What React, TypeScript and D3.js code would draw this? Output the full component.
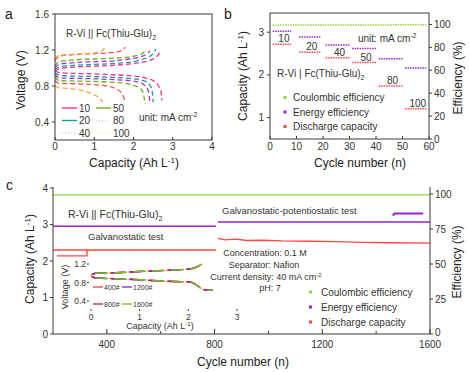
import React from 'react';
import * as d3 from 'd3';

const FONT = "'Liberation Sans', Arial, sans-serif";
const AXIS = '#3a3a3a';

// ---------- panel a : charge / discharge curves at different current densities
const densitiesA = ['10', '20', '40', '50', '80', '100'];
const colorsA = ['#ff2d87', '#1d9b9b', '#a830e0', '#6cae1c', '#ff4a4a', '#f6a93b'];
const chargeA: number[][][] = [
  [[0, 0.96], [0.1, 0.99], [0.5, 1.01], [1, 1.02], [1.5, 1.03], [2, 1.05], [2.3, 1.07], [2.5, 1.1], [2.62, 1.14], [2.7, 1.2]],
  [[0, 0.98], [0.1, 1.01], [0.5, 1.03], [1, 1.04], [1.5, 1.05], [2, 1.07], [2.25, 1.1], [2.42, 1.13], [2.52, 1.17], [2.57, 1.21]],
  [[0, 1.0], [0.1, 1.04], [0.5, 1.06], [1, 1.07], [1.5, 1.08], [1.9, 1.1], [2.15, 1.12], [2.32, 1.15], [2.42, 1.19]],
  [[0, 1.02], [0.1, 1.07], [0.5, 1.09], [1, 1.1], [1.5, 1.11], [1.85, 1.12], [2.1, 1.14], [2.22, 1.16], [2.3, 1.19]],
  [[0, 1.08], [0.1, 1.13], [0.5, 1.15], [1, 1.16], [1.4, 1.17], [1.6, 1.18], [1.72, 1.2], [1.79, 1.23]],
  [[0, 1.1], [0.1, 1.14], [0.4, 1.15], [0.8, 1.16], [1.05, 1.17], [1.2, 1.19], [1.26, 1.22]],
];
const dischargeA: number[][][] = [
  [[0, 0.97], [0.1, 0.95], [0.5, 0.94], [1, 0.935], [1.5, 0.925], [2, 0.91], [2.3, 0.89], [2.5, 0.86], [2.64, 0.8], [2.7, 0.74], [2.72, 0.64]],
  [[0, 0.95], [0.1, 0.92], [0.5, 0.91], [1, 0.905], [1.5, 0.895], [2, 0.88], [2.25, 0.86], [2.4, 0.82], [2.47, 0.76], [2.5, 0.62]],
  [[0, 0.93], [0.1, 0.89], [0.5, 0.885], [1, 0.88], [1.5, 0.87], [1.9, 0.86], [2.15, 0.84], [2.3, 0.8], [2.38, 0.74], [2.42, 0.6]],
  [[0, 0.9], [0.1, 0.86], [0.5, 0.855], [1, 0.85], [1.5, 0.84], [1.8, 0.83], [2.05, 0.8], [2.2, 0.76], [2.26, 0.7], [2.29, 0.6]],
  [[0, 0.86], [0.1, 0.83], [0.5, 0.825], [1, 0.815], [1.3, 0.8], [1.55, 0.77], [1.7, 0.72], [1.78, 0.64]],
  [[0, 0.8], [0.1, 0.78], [0.4, 0.77], [0.7, 0.75], [0.95, 0.71], [1.12, 0.67], [1.22, 0.62]],
];
const xTicksA = [0, 1, 2, 3, 4];
const yTicksA = [0.4, 0.8, 1.2, 1.6];

// ---------- panel b : rate performance
const segStartB = [1, 11, 21, 31, 41, 51];
const segEndB = [8, 19, 30, 40, 50, 59];
const capB = [2.72, 2.53, 2.4, 2.29, 1.74, 1.21];
const eeB = [94, 89, 82, 79, 70, 62];
const ceB = [99.4, 99.5, 99.5, 99.6, 99.6, 99.7];
const xTicksB = [0, 10, 20, 30, 40, 50, 60];
const yTicksB = [1, 2, 3];
const eTicksB = [0, 20, 40, 60, 80, 100];

// ---------- panel c : long cycling
const ceC = [[200, 99.4], [1600, 99.4]];
const eeC = [[200, 77], [805, 77]];
const eeC2 = [[812, 80], [1600, 80]];
const eeC3 = [[1462, 84.5], [1468, 86], [1575, 86]];
const capC = [[200, 2.3], [805, 2.3]];
const capC0 = [[215, 2.14], [326, 2.14], [326, 2.3]];
const capC2 = [[812, 2.62], [840, 2.58], [880, 2.6], [920, 2.56], [980, 2.57], [1050, 2.55], [1150, 2.54], [1250, 2.53], [1350, 2.51], [1450, 2.5], [1600, 2.49]];
const xTicksC = [400, 800, 1200, 1600];
const xMinorC = [600, 1000, 1400];
const yTicksC = [0, 1, 2, 3, 4];
const eTicksC = [0, 25, 50, 75, 100];

// inset of panel c
const cyclesI = ['400#', '800#', '1200#', '1600#'];
const colorsI = ['#ff3b3b', '#b0186a', '#8a22c8', '#79c21e'];
const chargeI = [[0, 0.96], [0.1, 1.0], [0.5, 1.01], [1, 1.04], [1.5, 1.06], [2, 1.09], [2.1, 1.11], [2.2, 1.15], [2.28, 1.2]];
const dischargeI = [[0, 0.93], [0.1, 0.9], [0.5, 0.88], [1, 0.86], [1.5, 0.83], [2, 0.81], [2.1, 0.79], [2.2, 0.72], [2.3, 0.65], [2.5, 0.63]];
const xTicksI = [0, 1, 2, 3];
const yTicksI = [0.4, 0.8, 1.2];

const green = '#8fd93f';
const purple = '#9b20d8';
const red = '#ff4545';

const CapTitle = ({ x, y, rot }: { x: number; y: number; rot?: boolean }) => (
  <text x={x} y={y} transform={rot ? `rotate(-90,${x},${y})` : undefined} textAnchor="middle" fontSize={12} fill="#222">
    Capacity (Ah L<tspan dy={-4} fontSize={8}>-1</tspan><tspan dy={4}>)</tspan>
  </text>
);

export default function App() {
  // scales
  const xA = d3.scaleLinear().domain([0, 4]).range([55, 212]);
  const yA = d3.scaleLinear().domain([0.2, 1.6]).range([140, 14]);
  const xB = d3.scaleLinear().domain([0, 60]).range([270, 429]);
  const yB = d3.scaleLinear().domain([0.5, 3.45]).range([139, 13]);
  const eB = d3.scaleLinear().domain([0, 110]).range([139, 13]);
  const xC = d3.scaleLinear().domain([200, 1600]).range([53, 430]);
  const yC = d3.scaleLinear().domain([0, 4]).range([334, 188]);
  const eC = d3.scaleLinear().domain([0, 100]).range([334, 194]);
  const xI = d3.scaleLinear().domain([0, 3]).range([91, 237]);
  const yI = d3.scaleLinear().domain([0.4, 1.2]).range([301, 264]);

  const lineA = d3.line<number[]>().x(d => xA(d[0])).y(d => yA(d[1])).curve(d3.curveMonotoneX);
  const lineCap = d3.line<number[]>().x(d => xC(d[0])).y(d => yC(d[1]));
  const lineEff = d3.line<number[]>().x(d => xC(d[0])).y(d => eC(d[1]));
  const lineI = d3.line<number[]>().x(d => xI(d[0])).y(d => yI(d[1])).curve(d3.curveMonotoneX);

  const tick = { fontSize: 10, fill: '#333' };
  const legendC: [string, string][] = [['Coulombic efficiency', green], ['Energy efficiency', purple], ['Discharge capacity', red]];

  return (
    <div style={{ position: 'absolute', left: 0, top: 0 }}>
      <svg width={469} height={372} style={{ display: 'block', fontFamily: FONT, background: '#fff' }}>
        {/* ================= panel a ================= */}
        <text x={5} y={19} fontSize={14} fill="#222">a</text>
        <g>
          {densitiesA.map((dn, i) => (
            <g key={dn}>
              <path d={lineA(chargeA[i]) || ''} fill="none" stroke={colorsA[i]} strokeWidth={1.3} strokeDasharray="5,3" />
              <path d={lineA(dischargeA[i]) || ''} fill="none" stroke={colorsA[i]} strokeWidth={1.3} strokeDasharray="5,3" />
            </g>
          ))}
          <rect x={55} y={14} width={157} height={126} fill="none" stroke={AXIS} strokeWidth={1} />
          {xTicksA.map(t => (
            <g key={t}>
              <line x1={xA(t)} x2={xA(t)} y1={140} y2={137} stroke={AXIS} />
              <text x={xA(t)} y={150} textAnchor="middle" {...tick}>{t}</text>
            </g>
          ))}
          {yTicksA.map(t => (
            <g key={t}>
              <line x1={55} x2={52} y1={yA(t)} y2={yA(t)} stroke={AXIS} />
              <text x={49} y={yA(t) + 3.5} textAnchor="end" {...tick}>{t.toFixed(1)}</text>
            </g>
          ))}
          <text x={25} y={80} transform="rotate(-90,25,80)" textAnchor="middle" fontSize={12} fill="#222">Voltage (V)</text>
          <CapTitle x={134} y={167} />
          <text x={66} y={37} fontSize={10} fill="#333">R-Vi || Fc(Thiu-Glu)<tspan dy={3} fontSize={7}>2</tspan></text>
          {densitiesA.map((dn, i) => {
            const lx = i < 3 ? 62 : 96;
            const ly = 108 + [0, 1, 2, 0, 1, 2][i] * 12.5;
            const faint = i === 2 || i >= 4;
            return (
              <g key={dn}>
                <line x1={lx} x2={lx + 15} y1={ly} y2={ly} stroke={colorsA[i]} strokeWidth={1.4}
                  strokeDasharray={faint ? '1,2' : undefined} opacity={faint ? 0.3 : 1} />
                <text x={lx + 17} y={ly + 3.5} fontSize={10} fill="#333">{dn}</text>
              </g>
            );
          })}
          <text x={139} y={121} fontSize={10} fill="#333">unit: mA cm<tspan dy={-4} fontSize={7}>-2</tspan></text>
        </g>

        {/* ================= panel b ================= */}
        <text x={224} y={19} fontSize={14} fill="#222">b</text>
        <g>
          <line x1={xB(segStartB[0])} x2={xB(segEndB[5])} y1={eB(ceB[0])} y2={eB(ceB[5])} stroke={green} strokeWidth={1.5} strokeDasharray="1.5,1" />
          {capB.map((c, i) => (
            <g key={i}>
              <line x1={xB(segStartB[i])} x2={xB(segEndB[i])} y1={yB(c)} y2={yB(c)} stroke={red} strokeWidth={1.5} strokeDasharray="1.5,1" />
              <line x1={xB(segStartB[i])} x2={xB(segEndB[i])} y1={eB(eeB[i])} y2={eB(eeB[i])} stroke={purple} strokeWidth={1.5} strokeDasharray="1.5,1" />
              <text x={xB((segStartB[i] + segEndB[i]) / 2) + 2} y={yB(c) - 2} textAnchor="middle" fontSize={10} fill="#333">{densitiesA[i]}</text>
            </g>
          ))}
          <rect x={270} y={13} width={159} height={126} fill="none" stroke={AXIS} strokeWidth={1} />
          {xTicksB.map(t => (
            <g key={t}>
              <line x1={xB(t)} x2={xB(t)} y1={139} y2={136} stroke={AXIS} />
              <text x={xB(t)} y={150} textAnchor="middle" {...tick}>{t}</text>
            </g>
          ))}
          {yTicksB.map(t => (
            <g key={t}>
              <line x1={270} x2={267} y1={yB(t)} y2={yB(t)} stroke={AXIS} />
              <text x={264} y={yB(t) + 3.5} textAnchor="end" {...tick}>{t}</text>
            </g>
          ))}
          {eTicksB.map(t => (
            <g key={t}>
              <line x1={429} x2={432} y1={eB(t)} y2={eB(t)} stroke={AXIS} />
              <text x={434} y={eB(t) + 3.5} {...tick}>{t}</text>
            </g>
          ))}
          <CapTitle x={247} y={76} rot />
          <text x={462} y={78} transform="rotate(-90,462,78)" textAnchor="middle" fontSize={12} fill="#222">Efficiency (%)</text>
          <text x={360} y={167} textAnchor="middle" fontSize={12} fill="#222">Cycle number (n)</text>
          <text x={358} y={42} fontSize={10} fill="#333">unit: mA cm<tspan dy={-4} fontSize={7}>-2</tspan></text>
          <text x={277} y={77} fontSize={10} fill="#333">R-Vi | Fc(Thiu-Glu)<tspan dy={3} fontSize={7}>2</tspan></text>
          {legendC.map(([t, c], i) => (
            <g key={t}>
              <rect x={283.5} y={96 + i * 14.5} width={3} height={3} fill={c} />
              <text x={293} y={101 + i * 14.5} fontSize={10} fill="#333">{t}</text>
            </g>
          ))}
        </g>

        {/* ================= panel c ================= */}
        <text x={6} y={190} fontSize={14} fill="#222">c</text>
        <g>
          <path d={lineEff(ceC) || ''} fill="none" stroke={green} strokeWidth={1.4} />
          <path d={lineEff(eeC) || ''} fill="none" stroke={purple} strokeWidth={1.4} />
          <path d={lineEff(eeC2) || ''} fill="none" stroke={purple} strokeWidth={1.4} />
          <path d={lineEff(eeC3) || ''} fill="none" stroke={purple} strokeWidth={2} />
          <path d={lineCap(capC) || ''} fill="none" stroke={red} strokeWidth={1.4} />
          <path d={lineCap(capC0) || ''} fill="none" stroke={red} strokeWidth={1.4} />
          <path d={lineCap(capC2) || ''} fill="none" stroke={red} strokeWidth={1.4} />
          <line x1={53} x2={53} y1={187} y2={334} stroke={AXIS} />
          <line x1={430} x2={430} y1={187} y2={334} stroke={AXIS} />
          <line x1={53} x2={430} y1={334} y2={334} stroke={AXIS} />
          {xTicksC.map(t => (
            <g key={t}>
              <line x1={xC(t)} x2={xC(t)} y1={334} y2={329} stroke={AXIS} />
              <text x={xC(t)} y={348} textAnchor="middle" {...tick}>{t}</text>
            </g>
          ))}
          {xMinorC.map(t => (
            <line key={t} x1={xC(t)} x2={xC(t)} y1={334} y2={331} stroke={AXIS} />
          ))}
          {yTicksC.map(t => (
            <g key={t}>
              <line x1={53} x2={50} y1={yC(t)} y2={yC(t)} stroke={AXIS} />
              <text x={48} y={yC(t) + 3.5} textAnchor="end" {...tick}>{t}</text>
            </g>
          ))}
          {eTicksC.map(t => (
            <g key={t}>
              <line x1={430} x2={433} y1={eC(t)} y2={eC(t)} stroke={AXIS} />
              <text x={435} y={eC(t) + (t === 0 ? 2 : 3.5)} {...tick}>{t}</text>
            </g>
          ))}
          <CapTitle x={34} y={259} rot />
          <text x={461} y={262} transform="rotate(-90,461,262)" textAnchor="middle" fontSize={12} fill="#222">Efficiency (%)</text>
          <text x={243} y={366} textAnchor="middle" fontSize={12} fill="#222">Cycle number (n)</text>

          <text x={68} y={218} fontSize={10.5} fill="#333">R-Vi || Fc(Thiu-Glu)<tspan dy={3} fontSize={7}>2</tspan></text>
          <text x={88} y={240} fontSize={9.5} fill="#333">Galvanostatic test</text>
          <text x={222} y={214} fontSize={9.5} fill="#333">Galvanostatic-potentiostatic test</text>
          <text x={265} y={256} textAnchor="middle" fontSize={9} fill="#333">Concentration: 0.1 M</text>
          <text x={264} y={268} textAnchor="middle" fontSize={9} fill="#333">Separator: Nafion</text>
          <text x={266} y={280} textAnchor="middle" fontSize={9} fill="#333">Current density: 40 mA cm<tspan dy={-3} fontSize={6}>-2</tspan></text>
          <text x={270} y={291} textAnchor="middle" fontSize={9} fill="#333">pH: 7</text>
          {legendC.map(([t, c], i) => (
            <g key={t}>
              <rect x={309} y={290.5 + i * 15} width={3} height={3} fill={c} />
              <text x={321} y={295.5 + i * 15} fontSize={10} fill="#333">{t}</text>
            </g>
          ))}

          {/* inset */}
          {cyclesI.map((c, i) => (
            <g key={c}>
              <path d={lineI(chargeI) || ''} fill="none" stroke={colorsI[i]} strokeWidth={1.5} strokeDasharray="13,6" strokeDashoffset={-i * 1.5} />
              <path d={lineI(dischargeI) || ''} fill="none" stroke={colorsI[i]} strokeWidth={1.5} strokeDasharray="13,6" strokeDashoffset={-i * 1.5} />
            </g>
          ))}
          {xTicksI.map(t => (
            <g key={t}>
              <line x1={xI(t)} x2={xI(t)} y1={309} y2={311} stroke={AXIS} />
              <text x={xI(t)} y={320} textAnchor="middle" fontSize={8.5} fill="#333">{t}</text>
            </g>
          ))}
          {yTicksI.map(t => (
            <g key={t}>
              <line x1={87} x2={89} y1={yI(t)} y2={yI(t)} stroke={AXIS} />
              <text x={86} y={yI(t) + 3} textAnchor="end" fontSize={8.5} fill="#333">{t.toFixed(1)}</text>
            </g>
          ))}
          <text x={68} y={287} transform="rotate(-90,68,287)" textAnchor="middle" fontSize={9} fill="#333">Voltage (V)</text>
          <text x={160} y={329} textAnchor="middle" fontSize={9} fill="#333">Capacity (Ah L<tspan dy={-3} fontSize={6}>-1</tspan><tspan dy={3}>)</tspan></text>
          {cyclesI.map((c, i) => {
            const lx = i < 2 ? 93 : 122;
            const ly = 287 + (i % 2) * 17;
            return (
              <g key={c}>
                <line x1={lx} x2={lx + 10} y1={ly} y2={ly} stroke={colorsI[i]} strokeWidth={1.3} />
                <text x={lx + 11} y={ly + 2.5} fontSize={7} fill="#333">{c}</text>
              </g>
            );
          })}
        </g>
      </svg>
    </div>
  );
}
